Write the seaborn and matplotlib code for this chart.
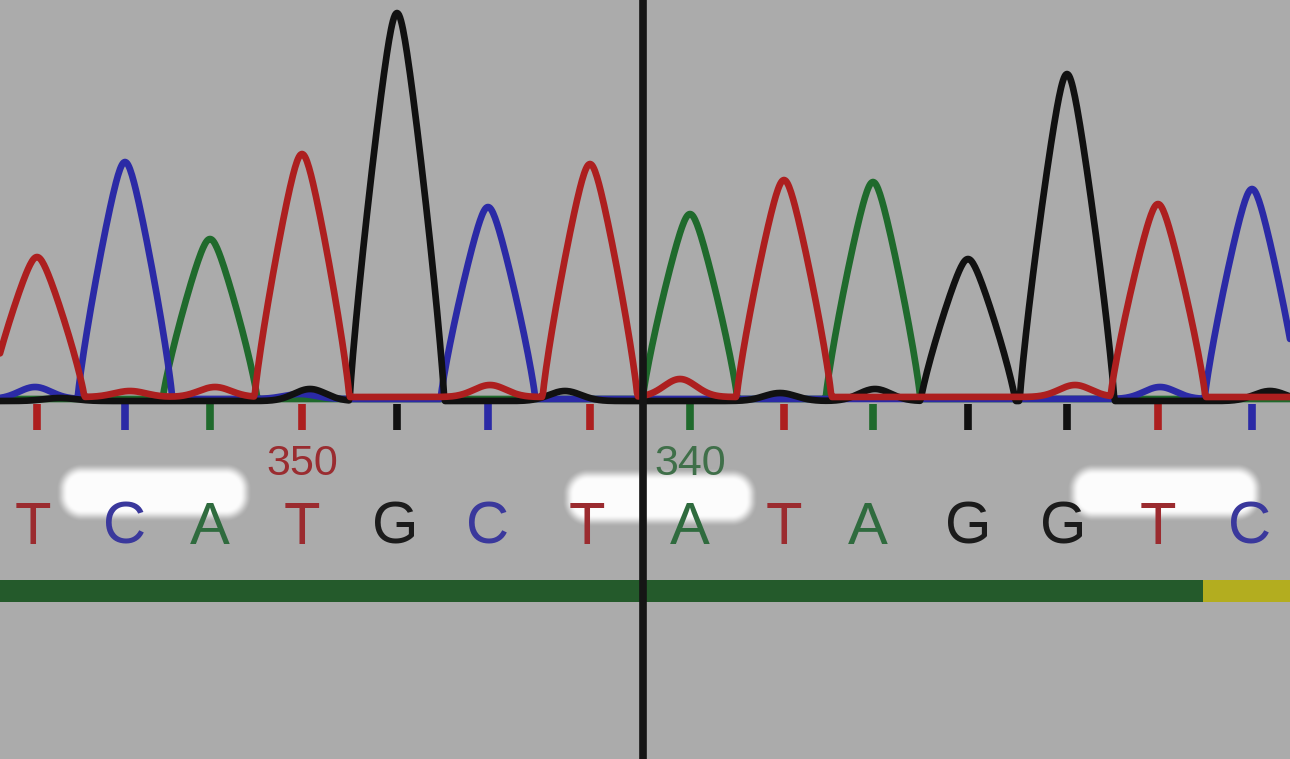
import numpy as np
import pandas as pd
import seaborn as sns
import matplotlib.pyplot as plt
from matplotlib.patches import Rectangle

# ---- data ----
bases = ["T", "C", "A", "T", "G", "C", "T", "A", "T", "A", "G", "G", "T", "C"]
base_pos = [37, 125, 210, 302, 397, 488, 590, 690, 784, 873, 968, 1067, 1158, 1252]
peak_height = [140, 237, 160, 243, 388, 192, 233, 185, 217, 217, 142, 327, 193, 210]
letter_pos = [33, 125, 210, 302, 395, 488, 587, 690, 784, 868, 968, 1063, 1158, 1250]

# small secondary bumps (channel, position, height)
minor_channel = ["C", "T", "T", "G", "C", "T", "G", "T", "G", "G", "T", "C", "G", "G"]
minor_pos = [35, 130, 215, 310, 300, 490, 565, 680, 780, 875, 1075, 1160, 1270, 60]
minor_height = [12, 6, 10, 12, 5, 12, 10, 18, 8, 12, 12, 12, 10, 3]

channel_base = {"A": 1, "C": 1, "G": -1, "T": 3}
position_labels = ["350", "340"]
position_label_x = [302, 690]
position_label_color = ["#9a2c30", "#3f6f49"]

trace_colors = {"A": "#1f6a2c", "C": "#2b2aa6", "G": "#111111", "T": "#ad1f1f"}
letter_colors = {"A": "#2f6b3e", "C": "#3a389c", "G": "#1b1b1b", "T": "#9b2b2f"}

# ---- build traces (peak shape: slightly convex triangle with rounded apex) ----
scan = np.arange(0, 1291, 1.0)
W, C0 = 40.0, 8.0


def peak(x0, h, w=W):
    d = np.sqrt((scan - x0) ** 2 + C0 ** 2) - C0
    return h * np.clip(1 - d / w, 0, None) ** 0.85


def bump(x0, h, w=40.0):
    return h * np.exp(-0.5 * ((scan - x0) / (w / 2.5)) ** 2)


frames = []
for ch in ["A", "C", "G", "T"]:
    sig = np.full_like(scan, channel_base[ch], dtype=float)
    for b, p, h in zip(bases, base_pos, peak_height):
        if b == ch:
            sig = np.maximum(sig, channel_base[ch] + peak(p, h))
    for c, p, h in zip(minor_channel, minor_pos, minor_height):
        if c == ch:
            sig = sig + bump(p, h)
    frames.append(pd.DataFrame({"scan": scan, "signal": sig, "channel": ch}))
df = pd.concat(frames, ignore_index=True)

# ---- figure ----
sns.set_theme(style="white")
fig = plt.figure(figsize=(12.9, 7.59), dpi=100)
fig.patch.set_facecolor("#ababab")
ax = fig.add_axes([0, 0, 1, 1])
ax.set_facecolor("#ababab")

# soft white glows behind the labels (pixel-space boxes: x0, x1, ytop, ybottom)
glows = [(62, 246, 469, 516), (568, 752, 474, 521), (1073, 1257, 469, 516)]
gx, gy = np.meshgrid(np.arange(1290) + 0.5, np.arange(759) + 0.5)
alpha = np.zeros_like(gx)
for x0, x1, y0, y1 in glows:
    cx, cy = (x0 + x1) / 2, (y0 + y1) / 2
    hx, hy = (x1 - x0) / 2, (y1 - y0) / 2
    r = 20.0
    qx = np.abs(gx - cx) - (hx - r)
    qy = np.abs(gy - cy) - (hy - r)
    d = np.hypot(np.maximum(qx, 0), np.maximum(qy, 0)) + np.minimum(np.maximum(qx, qy), 0) - r
    a = np.clip(0.5 - d / 12.0, 0, 1)
    a = a * a * (3 - 2 * a)
    alpha = np.maximum(alpha, 0.97 * a)
rgba = np.ones((759, 1290, 4))
rgba[..., 3] = alpha
ax.imshow(rgba, extent=(0, 1290, -359, 400), origin="upper", aspect="auto",
          interpolation="bilinear", zorder=1)

sns.lineplot(data=df, x="scan", y="signal", hue="channel",
             hue_order=["A", "C", "G", "T"],
             palette=trace_colors, estimator=None, sort=False,
             linewidth=4.8, legend=False, ax=ax, zorder=4)
ax.set_xlabel("")
ax.set_ylabel("")
ax.set_xlim(0, 1290)
ax.set_ylim(-359, 400)
ax.axis("off")

# base tick marks
for b, p in zip(bases, base_pos):
    ax.plot([p, p], [-4, -30], color=trace_colors[b], linewidth=5.5,
            solid_capstyle="butt", zorder=3)

# base letters
for b, p in zip(bases, letter_pos):
    ax.text(p, -128, b, ha="center", va="center", fontsize=43,
            family=["Liberation Sans", "DejaVu Sans"], color=letter_colors[b], zorder=5)

# position labels
for lab, p, col in zip(position_labels, position_label_x, position_label_color):
    ax.text(p, -64, lab, ha="center", va="center", fontsize=31,
            family=["Liberation Sans", "DejaVu Sans"], color=col, zorder=5)

# quality bar
ax.add_patch(Rectangle((0, -202), 1203, 22, facecolor="#245a2b", edgecolor="none", zorder=2))
ax.add_patch(Rectangle((1203, -202), 87, 22, facecolor="#b3ad1f", edgecolor="none", zorder=2))

# vertical cursor line
ax.axvline(643, color="#151515", linewidth=5.5, zorder=6)

fig.savefig("out.png", dpi=100, facecolor=fig.get_facecolor())
